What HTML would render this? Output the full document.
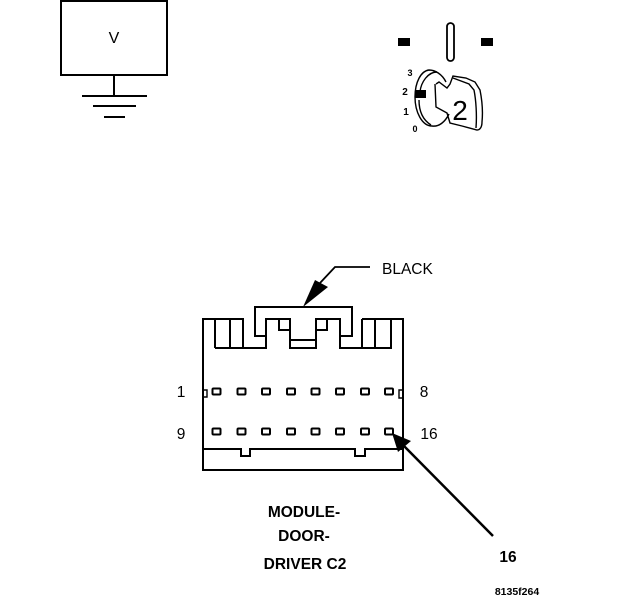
<!DOCTYPE html>
<html>
<head>
<meta charset="utf-8">
<style>
html,body{margin:0;padding:0;background:#fff;}
svg{display:block;}
text{font-family:"Liberation Sans",Arial,sans-serif;fill:#000;}
</style>
</head>
<body>
<svg width="624" height="600" viewBox="0 0 624 600" xmlns="http://www.w3.org/2000/svg">
<rect width="624" height="600" fill="#fff"/>

<!-- Ground box -->
<g fill="none" stroke="#000" stroke-width="2" shape-rendering="crispEdges">
  <rect x="61" y="1" width="106" height="74"/>
  <path d="M114 75V96M82 96H147M93 106H136M104 117H125"/>
</g>
<text x="114" y="43" font-size="16" text-anchor="middle">V</text>

<!-- Key detail -->
<rect x="398" y="38" width="12" height="8" fill="#000"/>
<rect x="481" y="38" width="12" height="8" fill="#000"/>
<rect x="447" y="23" width="7" height="38" rx="3.5" fill="none" stroke="#000" stroke-width="1.8"/>
<g fill="none" stroke="#000" stroke-width="1.4">
  <path d="M446 82C442 74 435 70 429 70C421 71 415 82 415 97C415 112 422 126 432 126C439 127 445 122 449 114"/>
  <path d="M437 72C428 72 421 82 420 92"/>
  <path d="M419 100C419 111 423 120 431 125"/>
  <path d="M436 84L439 82L447 88L450 84L453 76L466 78L475 82L480 90C482 100 483 112 482 122C482 127 480 130 477 130L462 126L450 123L447 113L436 107L435 84"/>
  <path d="M453 78L469 84L474 90C476 100 477 115 476 128"/>
</g>
<rect x="415" y="90" width="11" height="8" fill="#000"/>
<text x="460" y="120" font-size="28" text-anchor="middle">2</text>
<g font-weight="bold">
<text x="410" y="76" font-size="9" text-anchor="middle">3</text>
<text x="405" y="95" font-size="10" text-anchor="middle">2</text>
<text x="406" y="115" font-size="10" text-anchor="middle">1</text>
<text x="415" y="132" font-size="9" text-anchor="middle">0</text>
</g>

<!-- Connector -->
<g fill="none" stroke="#000" stroke-width="2" shape-rendering="crispEdges">
  <path d="M203 328V470H403V319H362"/>
  <path d="M203 328V319H243V348"/>
  <path d="M215 319V348M230 319V348"/>
  <path d="M215 348H266V319H290V348H316V319H340V348H391V319"/>
  <path d="M375 319V348M362 319V348"/>
  <path d="M290 340H316"/>
  <path d="M279 319V330H290M316 330H327V319"/>
  <path d="M266 336H255V307H352V336H340"/>
  <path d="M203 449H241V456H250V449H355V456H365V449H403"/>
</g>

<!-- Pins -->
<g fill="none" stroke="#000" stroke-width="2">
  <rect x="212.500" y="388.500" width="8" height="6" rx="1"/>
  <rect x="237.500" y="388.500" width="8" height="6" rx="1"/>
  <rect x="262" y="388.500" width="8" height="6" rx="1"/>
  <rect x="287" y="388.500" width="8" height="6" rx="1"/>
  <rect x="311.500" y="388.500" width="8" height="6" rx="1"/>
  <rect x="336" y="388.500" width="8" height="6" rx="1"/>
  <rect x="361" y="388.500" width="8" height="6" rx="1"/>
  <rect x="385" y="388.500" width="8" height="6" rx="1"/>
  <rect x="212.500" y="428.500" width="8" height="6" rx="1"/>
  <rect x="237.500" y="428.500" width="8" height="6" rx="1"/>
  <rect x="262" y="428.500" width="8" height="6" rx="1"/>
  <rect x="287" y="428.500" width="8" height="6" rx="1"/>
  <rect x="311.500" y="428.500" width="8" height="6" rx="1"/>
  <rect x="336" y="428.500" width="8" height="6" rx="1"/>
  <rect x="361" y="428.500" width="8" height="6" rx="1"/>
  <rect x="385" y="428.500" width="8" height="6" rx="1"/>
  <path d="M204 390H207V397H204" stroke-width="1.4"/>
  <path d="M403 390H399V398H403" stroke-width="1.4"/>
</g>

<!-- Arrows -->
<polygon points="303,307 315,280 328,287" fill="#000"/>
<path d="M320 283L335 267H370" fill="none" stroke="#000" stroke-width="1.8"/>
<polygon points="392,433 411,441 398,452" fill="#000"/>
<path d="M403 445L493 536" fill="none" stroke="#000" stroke-width="2.500"/>

<!-- Labels -->
<text x="382" y="274" font-size="15.500">BLACK</text>
<text x="181" y="397" font-size="15.500" text-anchor="middle">1</text>
<text x="424" y="397" font-size="15.500" text-anchor="middle">8</text>
<text x="181" y="439" font-size="15.500" text-anchor="middle">9</text>
<text x="429" y="439" font-size="15.500" text-anchor="middle">16</text>
<g font-weight="bold" font-size="15.500" text-anchor="middle">
  <text x="304" y="517">MODULE-</text>
  <text x="304" y="541">DOOR-</text>
  <text x="305" y="569">DRIVER C2</text>
  <text x="508" y="562">16</text>
</g>
<text x="517" y="595" font-size="10.500" font-weight="bold" text-anchor="middle">8135f264</text>
</svg>
</body>
</html>
